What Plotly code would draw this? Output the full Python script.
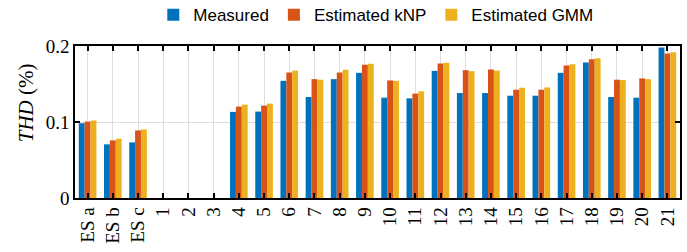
import plotly.graph_objects as go

categories = ["ES a", "ES b", "ES c"] + [str(i) for i in range(1, 22)]
measured = [0.0984, 0.0706, 0.0732, None, None, None,
            0.1133, 0.1137, 0.1542, 0.1329, 0.1564, 0.1647, 0.1320, 0.1311,
            0.1673, 0.1381, 0.1381, 0.1346, 0.1346, 0.1647, 0.1782, 0.1329,
            0.1320, 0.1980]
est_knp = [0.1006, 0.0758, 0.0889, None, None, None,
           0.1203, 0.1216, 0.1651, 0.1564, 0.1651, 0.1752, 0.1547, 0.1373,
           0.1769, 0.1682, 0.1690, 0.1425, 0.1425, 0.1743, 0.1826, 0.1556,
           0.1573, 0.1900]
est_gmm = [0.1020, 0.0780, 0.0902, None, None, None,
           0.1229, 0.1242, 0.1677, 0.1556, 0.1686, 0.1765, 0.1542, 0.1403,
           0.1778, 0.1669, 0.1677, 0.1451, 0.1455, 0.1760, 0.1839, 0.1551,
           0.1564, 0.1917]
series_names = ["Measured", "Estimated kNP", "Estimated GMM"]
colors = ["#0072BD", "#D95319", "#EDB120"]
y_ticks = [0, 0.1, 0.2]
y_tick_labels = ["0", "0.1", "0.2"]

serif = "Liberation Serif, DejaVu Serif, serif"
sans = "Liberation Sans, Arial, sans-serif"

fig = go.Figure()
for name, vals, col in zip(series_names, [measured, est_knp, est_gmm], colors):
    fig.add_trace(go.Bar(x=categories, y=vals, name=name,
                         marker=dict(color=col, line=dict(width=0))))

fig.update_layout(
    width=687, height=252,
    margin=dict(l=75, r=7, t=46, b=54),
    paper_bgcolor="white", plot_bgcolor="white",
    barmode="group", bargap=0.3, bargroupgap=0,
    legend=dict(orientation="h", xref="container", yref="container",
                x=0.547, xanchor="center", y=0.94, yanchor="middle",
                font=dict(family=sans, size=17, color="black"),
                itemwidth=30, tracegroupgap=0, bgcolor="rgba(0,0,0,0)"),
    xaxis=dict(type="category", tickangle=-90, automargin=False,
               tickfont=dict(family=serif, size=19, color="black"),
               showline=True, linecolor="black", linewidth=1.5, mirror="allticks",
               ticks="inside", ticklen=5, tickwidth=1.5, tickcolor="black",
               showgrid=True, gridcolor="#dedede", gridwidth=1,
               range=[-0.5, 23.5]),
    yaxis=dict(range=[0, 0.2], tickvals=y_ticks, ticktext=y_tick_labels,
               automargin=False,
               tickfont=dict(family=serif, size=19, color="black"),
               showline=True, linecolor="black", linewidth=1.5, mirror="allticks",
               ticks="inside", ticklen=5, tickwidth=1.5, tickcolor="black",
               showgrid=True, gridcolor="#dedede", gridwidth=1, zeroline=False),
    annotations=[dict(text="<i>THD</i> (%)", xref="paper", yref="paper",
                      x=-0.081, y=0.63, xanchor="center", yanchor="middle",
                      textangle=-90, showarrow=False,
                      font=dict(family=serif, size=21, color="black"))],
)

fig.write_html("out.html", config={"displayModeBar": False},
               post_script="document.body.style.margin='0';")
